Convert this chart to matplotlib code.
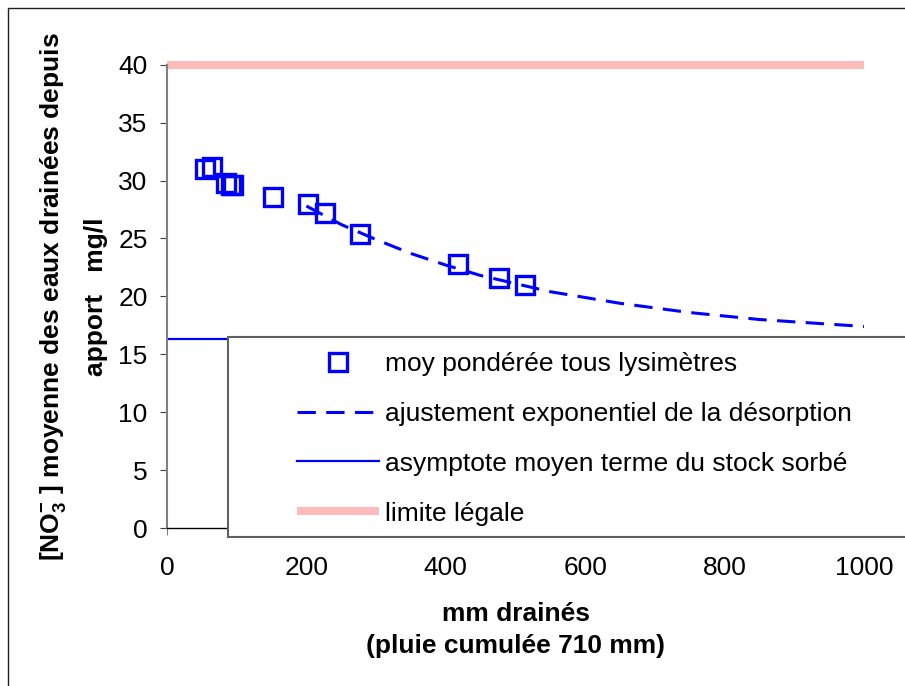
import matplotlib
matplotlib.use("Agg")
from matplotlib import pyplot as plt
from matplotlib.patches import Rectangle

# police type Arial
plt.rcParams['font.family'] = ['Liberation Sans', 'DejaVu Sans']
plt.rcParams['mathtext.fontset'] = 'custom'
plt.rcParams['mathtext.rm'] = 'Liberation Sans:bold'
plt.rcParams['mathtext.bf'] = 'Liberation Sans:bold'

# moyennes pondérées mesurées (mm drainés, mg/l)
mm_draines = [55, 64, 85, 92, 95, 152, 203, 227, 277, 417, 477, 513]
no3_moy = [31.0, 31.2, 29.8, 29.6, 29.6, 28.6, 28.0, 27.2, 25.4, 22.8, 21.6, 21.0]

# ajustement exponentiel
mm_ajust = [200, 250, 300, 350, 400, 450, 500, 550, 600, 650, 700, 750, 800, 850, 900, 950, 1000]
no3_ajust = [27.8, 26.2, 24.9, 23.7, 22.7, 21.8, 21.1, 20.4, 19.9, 19.4, 19.0, 18.6, 18.3,
             18.0, 17.8, 17.6, 17.4]

# asymptote et limite légale
mm_bornes = [0, 1000]
asymptote = [16.3, 16.3]
limite = [40, 40]

labels = ["moy pondérée tous lysimètres",
          "ajustement exponentiel de la désorption",
          "asymptote moyen terme du stock sorbé",
          "limite légale"]

W, H = 905, 686
fig = plt.figure(figsize=(W / 100, H / 100), dpi=100)
ax = fig.add_axes([167 / W, 1 - 528 / H, (864 - 167) / W, (528 - 64.7) / H])

l_lim, = ax.plot(mm_bornes, limite, color='#ffbaba', lw=5.8, solid_capstyle='butt',
                 clip_on=False, zorder=2)
l_asy, = ax.plot(mm_bornes, asymptote, color='#0000ff', lw=1.6, zorder=2)
l_aju, = ax.plot(mm_ajust, no3_ajust, color='#0000ff', lw=2.2, zorder=3)
l_aju.set_dashes([6, 3.4])
l_moy, = ax.plot(mm_draines, no3_moy, ls='none', marker='s', ms=13, mew=2.4,
                 mec='#0000ff', mfc='none', zorder=4)

ax.set_xlim(0, 1000)
ax.set_ylim(0, 40)
ax.set_xticks(range(0, 1001, 200))
ax.set_yticks(range(0, 41, 5))
ax.tick_params(axis='both', labelsize=19, direction='out', length=5)
ax.tick_params(axis='x', pad=15, color='#808080')
ax.tick_params(axis='y', pad=9, color='#404040')

for s in ['top', 'right']:
    ax.spines[s].set_visible(False)
ax.spines['left'].set_color('#808080')
ax.spines['left'].set_linewidth(1.5)
ax.spines['bottom'].set_color('black')
ax.spines['bottom'].set_linewidth(1.0)

ax.set_xlabel("mm drainés\n(pluie cumulée 710 mm)", fontsize=19, fontweight='bold',
              linespacing=1.45)
ax.xaxis.set_label_coords(0.5, -0.22)
ax.xaxis.label.set_va('center')

ax.set_ylabel("[NO$_3^{-}$ ] moyenne des eaux drainées depuis\napport   mg/l",
              fontsize=19, fontweight='bold', linespacing=1.79)
ax.yaxis.set_label_coords((73 - 167) / (864 - 167), 0.5)
ax.yaxis.label.set_va('center')

# cadre du graphique
fig.patches.append(Rectangle((8 / W, -0.1), 1.2, 1.1 - 8 / H, transform=fig.transFigure,
                             fill=False, ec='#202020', lw=1.0, zorder=1))
# cadre de la légende
fig.patches.append(Rectangle((228 / W, 1 - 537 / H), 1.0, 200 / H, transform=fig.transFigure,
                             fc='white', ec='#606060', lw=1.5, zorder=3))

leg = fig.legend([l_moy, l_aju, l_asy, l_lim], labels, loc='upper left',
                 bbox_to_anchor=(297 / W, 1 - 352 / H), frameon=False, fontsize=19,
                 borderpad=0, borderaxespad=0, handlelength=3.1, handletextpad=0.23,
                 labelspacing=0.98, numpoints=1)
leg.set_zorder(5)

fig.savefig("out.png", dpi=100)
